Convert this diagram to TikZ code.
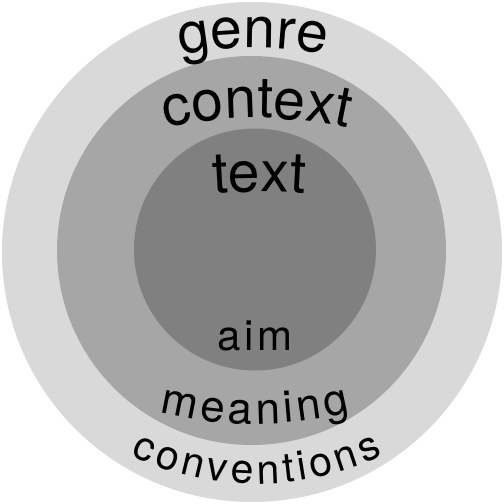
\documentclass[tikz,border=0pt]{standalone}
\usepackage{fontspec}
\setmainfont{TeX Gyre Heros}
\usetikzlibrary{decorations.text}
\definecolor{ringA}{HTML}{D9D9D9}
\definecolor{ringB}{HTML}{A6A6A6}
\definecolor{ringC}{HTML}{808080}
\newcommand\fbig{\fontsize{57}{57}\selectfont}
\newcommand\faim{\fontsize{42}{42}\selectfont}
\newcommand\fmean{\fontsize{44}{44}\selectfont}
\newcommand\fconv{\fontsize{41}{41}\selectfont}
\tikzset{
  disc/.style={circle, inner sep=0pt, draw=none},
  curvedtext/.style n args={3}{decorate, decoration={text effects along path,
      text={#1}, text align=center,
      text effects/.cd, text along path,
      characters={font=#2},
      character widths={font=#2, inner xsep=#3}}}
}
\begin{document}
\begin{tikzpicture}[x=1pt,y=1pt]
\useasboundingbox (0,0) rectangle (504,504);
\node[disc, fill=ringA, minimum size=500pt] (outer) at (252,252) {};
\node[disc, fill=ringB, minimum size=389pt] (middle) at (251.5,253.5) {};
\node[disc, fill=ringC, minimum size=242pt] (inner) at (255,254.5) {};
% top labels
\path[curvedtext={genre}{\fbig}{0pt}]
  ([shift={(110:400pt)}]253,56) arc[start angle=110, end angle=70, radius=400pt];
\path[curvedtext={context}{\fbig}{0pt}]
  ([shift={(112:420pt)}]257,-34) arc[start angle=112, end angle=68, radius=420pt];
\path[curvedtext={text}{\fbig}{0pt}]
  ([shift={(98:700pt)}]259,-388) arc[start angle=98, end angle=82, radius=700pt];
% bottom labels
\path[curvedtext={aim}{\faim}{2pt}]
  (195,153) -- (315,153);
\path[curvedtext={meaning}{\fmean}{2pt}]
  ([shift={(250:400pt)}]255,480) arc[start angle=250, end angle=290, radius=400pt];
\path[curvedtext={conventions}{\fconv}{2.1pt}]
  ([shift={(225:290pt)}]257,310) arc[start angle=225, end angle=315, radius=290pt];
\end{tikzpicture}
\end{document}
